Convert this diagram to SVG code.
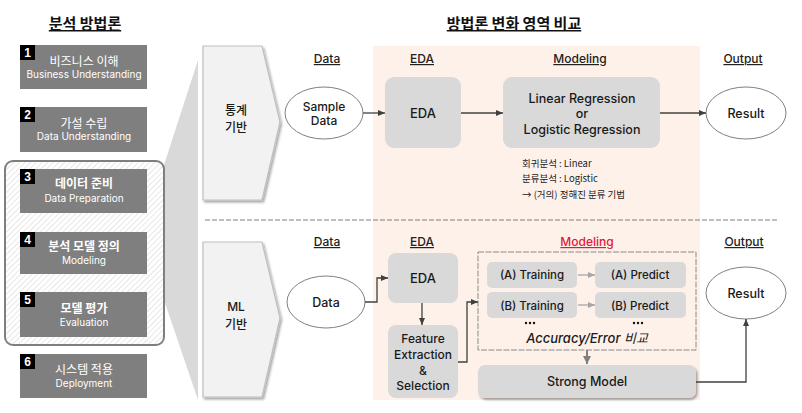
<svg xmlns="http://www.w3.org/2000/svg" width="802" height="413" viewBox="0 0 802 413">
<style>
.kr{font-family:"Noto Sans CJK KR","Noto Sans",sans-serif}
.lt{font-family:Inter,"Noto Sans CJK KR",sans-serif}
.step{fill:#7f7f7f}
.badge{fill:#000}
.bnum{fill:#fff;font-family:"Liberation Sans",sans-serif;font-size:12px;font-weight:bold}
.sk{fill:#fff;font-size:12px;text-anchor:middle}
.se{fill:#fff;font-size:10px;text-anchor:middle}
.col{font-size:12px;text-anchor:middle;fill:#222;text-decoration:underline;font-weight:500}
.gbox{fill:#d9d9d9}
.ell{fill:#fff;stroke:#808080;stroke-width:1}
.t{fill:#1a1a1a;text-anchor:middle;font-weight:500}
.conn{fill:none;stroke:#404040;stroke-width:1.3}
.lconn{fill:none;stroke:#a6a6a6;stroke-width:1.3}
.pent{fill:#f2f2f2;stroke:#bfbfbf;stroke-width:1.2}
</style>
<defs>
<pattern id="hatch" width="4" height="4" patternUnits="userSpaceOnUse" patternTransform="rotate(45)">
<rect width="4" height="4" fill="#fff"/>
<line x1="0" y1="0" x2="0" y2="4" stroke="#d0d0d0" stroke-width="1"/>
</pattern>
<marker id="ah" markerWidth="8" markerHeight="8" refX="7" refY="4" orient="auto" markerUnits="userSpaceOnUse">
<path d="M0,1 L7,4 L0,7 z" fill="#404040"/>
</marker>
<marker id="ahl" markerWidth="8" markerHeight="8" refX="7" refY="4" orient="auto" markerUnits="userSpaceOnUse">
<path d="M0,1 L7,4 L0,7 z" fill="#a6a6a6"/>
</marker>
<marker id="ahg" markerWidth="10" markerHeight="10" refX="8" refY="5" orient="auto" markerUnits="userSpaceOnUse">
<path d="M0,1 L8,5 L0,9 z" fill="#7f7f7f"/>
</marker>
<filter id="sh" x="-10%" y="-10%" width="125%" height="130%">
<feDropShadow dx="1.5" dy="2" stdDeviation="1.2" flood-color="#000" flood-opacity="0.35"/>
</filter>
</defs>

<rect width="802" height="413" fill="#fff"/>

<!-- peach background -->
<rect x="373" y="46" width="327" height="354" fill="#fdf1ea"/>

<!-- funnel -->
<polygon points="198,60 198,400 164,300 164,165" fill="#d9d9d9"/>

<!-- titles -->
<text class="kr" x="85" y="29" font-size="15" font-weight="bold" text-anchor="middle" text-decoration="underline" fill="#111">분석 방법론</text>
<text class="kr" x="514" y="29" font-size="15" font-weight="bold" text-anchor="middle" text-decoration="underline" fill="#111">방법론 변화 영역 비교</text>

<!-- highlight frame -->
<rect x="5" y="161" width="159" height="184" rx="8" fill="url(#hatch)" stroke="#7f7f7f" stroke-width="2"/>

<g id="step1">
<rect class="step" x="20" y="45" width="127" height="44"/>
<rect class="badge" x="20" y="45" width="15" height="15"/>
<text class="bnum" x="27.5" y="57" text-anchor="middle">1</text>
<text class="kr sk" x="84" y="66">비즈니스 이해</text>
<text class="lt se" x="84" y="78">Business Understanding</text>
</g>
<g id="step2">
<rect class="step" x="20" y="107" width="127" height="45"/>
<rect class="badge" x="20" y="107" width="15" height="15"/>
<text class="bnum" x="27.5" y="119" text-anchor="middle">2</text>
<text class="kr sk" x="84" y="128">가설 수립</text>
<text class="lt se" x="84" y="140">Data Understanding</text>
</g>
<g id="step3">
<rect class="step" x="20" y="169" width="127" height="44"/>
<rect class="badge" x="20" y="169" width="15" height="15"/>
<text class="bnum" x="27.5" y="181" text-anchor="middle">3</text>
<text class="kr sk" x="84" y="188" font-weight="bold">데이터 준비</text>
<text class="lt se" x="84" y="202">Data Preparation</text>
</g>
<g id="step4">
<rect class="step" x="20" y="232" width="127" height="42"/>
<rect class="badge" x="20" y="232" width="15" height="15"/>
<text class="bnum" x="27.5" y="244" text-anchor="middle">4</text>
<text class="kr sk" x="84" y="251" font-weight="bold">분석 모델 정의</text>
<text class="lt se" x="84" y="264">Modeling</text>
</g>
<g id="step5">
<rect class="step" x="20" y="292" width="127" height="45"/>
<rect class="badge" x="20" y="292" width="15" height="15"/>
<text class="bnum" x="27.5" y="304" text-anchor="middle">5</text>
<text class="kr sk" x="84" y="313" font-weight="bold">모델 평가</text>
<text class="lt se" x="84" y="326">Evaluation</text>
</g>
<g id="step6">
<rect class="step" x="20" y="354" width="127" height="44"/>
<rect class="badge" x="20" y="354" width="15" height="15"/>
<text class="bnum" x="27.5" y="366" text-anchor="middle">6</text>
<text class="kr sk" x="84" y="374">시스템 적용</text>
<text class="lt se" x="84" y="387">Deployment</text>
</g>

<!-- pentagons -->
<g id="stat">
<polygon class="pent" filter="url(#sh)" points="203,46 262,46 280,122 262,200 203,200"/>
<text class="kr t" x="236" y="115" font-size="12">통계</text>
<text class="kr t" x="236" y="132" font-size="12">기반</text>
</g>
<g id="ml">
<polygon class="pent" filter="url(#sh)" points="203,242 262,242 280,318 262,397 203,397"/>
<text class="lt t" x="236" y="311" font-size="12" font-weight="600">ML</text>
<text class="kr t" x="236" y="329" font-size="12">기반</text>
</g>

<!-- dashed divider -->
<line x1="205" y1="220" x2="778" y2="220" stroke="#7f7f7f" stroke-width="1" stroke-dasharray="5,2"/>

<!-- column labels -->
<g class="lt">
<text class="col" x="327" y="63">Data</text>
<text class="col" x="422" y="63">EDA</text>
<text class="col" x="580" y="63">Modeling</text>
<text class="col" x="743" y="63">Output</text>
<text class="col" x="327" y="246">Data</text>
<text class="col" x="422" y="246">EDA</text>
<text class="col" x="587" y="246" style="fill:#e0193c">Modeling</text>
<text class="col" x="744" y="246">Output</text>
</g>

<!-- top row -->
<g id="sample">
<ellipse class="ell" cx="324" cy="113" rx="39" ry="26"/>
<text class="lt t" x="324" y="111" font-size="12">Sample</text>
<text class="lt t" x="324" y="125" font-size="12">Data</text>
</g>
<g id="eda1">
<rect class="gbox" x="385" y="77" width="76" height="71" rx="9"/>
<text class="lt t" x="423" y="118" font-size="13">EDA</text>
</g>
<g id="lr">
<rect class="gbox" x="503" y="77" width="157" height="71" rx="9"/>
<text class="lt t" x="582" y="103" font-size="12.5">Linear Regression</text>
<text class="lt t" x="582" y="118" font-size="12.5">or</text>
<text class="lt t" x="582" y="134" font-size="12.5">Logistic Regression</text>
</g>
<g id="result1">
<ellipse class="ell" cx="746" cy="113" rx="40" ry="26"/>
<text class="lt t" x="746" y="118" font-size="12.5">Result</text>
</g>
<g id="notes" class="kr" font-size="9.5" fill="#222">
<text x="522" y="167">회귀분석 : Linear</text>
<text x="522" y="182">분류분석 : Logistic</text>
<text x="522" y="198">→ (거의) 정해진 분류 기법</text>
</g>

<!-- bottom row -->
<g id="data2">
<ellipse class="ell" cx="326" cy="302" rx="39" ry="26"/>
<text class="lt t" x="326" y="307" font-size="12.5">Data</text>
</g>
<g id="eda2">
<rect class="gbox" x="388" y="253" width="70" height="50" rx="8"/>
<text class="lt t" x="423" y="283" font-size="13">EDA</text>
</g>
<g id="feat">
<rect class="gbox" x="388" y="325" width="70" height="73" rx="8"/>
<text class="lt t" x="423" y="343" font-size="12">Feature</text>
<text class="lt t" x="423" y="359" font-size="12">Extraction</text>
<text class="lt t" x="423" y="375" font-size="12">&amp;</text>
<text class="lt t" x="423" y="390" font-size="12">Selection</text>
</g>
<g id="modelframe">
<rect x="478" y="252" width="218" height="98" fill="none" stroke="#808080" stroke-width="0.9" stroke-dasharray="6,1.5"/>
</g>
<g id="trainA">
<rect class="gbox" x="487" y="262" width="90" height="26" rx="5"/>
<text class="lt t" x="532" y="279" font-size="11.5" font-weight="normal">(A) Training</text>
</g>
<g id="predA">
<rect class="gbox" x="595" y="262" width="91" height="26" rx="5"/>
<text class="lt t" x="640" y="279" font-size="11.5" font-weight="normal">(A) Predict</text>
</g>
<g id="trainB">
<rect class="gbox" x="487" y="292" width="90" height="26" rx="5"/>
<text class="lt t" x="532" y="310" font-size="11.5" font-weight="normal">(B) Training</text>
</g>
<g id="predB">
<rect class="gbox" x="595" y="292" width="91" height="26" rx="5"/>
<text class="lt t" x="640" y="310" font-size="11.5" font-weight="normal">(B) Predict</text>
</g>
<g id="dots" fill="#111">
<circle cx="526" cy="323" r="1.2"/><circle cx="530" cy="323" r="1.2"/><circle cx="534" cy="323" r="1.2"/>
<circle cx="634" cy="323" r="1.2"/><circle cx="638" cy="323" r="1.2"/><circle cx="642" cy="323" r="1.2"/>
</g>
<text class="lt t" x="587" y="343" font-size="13" font-style="italic" font-weight="600">Accuracy/Error <tspan class="kr" font-weight="normal">비교</tspan></text>
<g id="strong">
<rect class="gbox" x="478" y="365" width="218" height="33" rx="7" filter="url(#sh)"/>
<text class="lt t" x="587" y="386" font-size="12.5">Strong Model</text>
</g>
<g id="result2">
<ellipse class="ell" cx="746" cy="293" rx="40" ry="26"/>
<text class="lt t" x="746" y="298" font-size="12.5">Result</text>
</g>

<!-- connectors -->
<g id="connectors">
<path class="conn" d="M363,113 H385" marker-end="url(#ah)"/>
<path class="conn" d="M461,113 H503" marker-end="url(#ah)"/>
<path class="conn" d="M660,113 H706" marker-end="url(#ah)"/>
<path class="conn" d="M365,302 H377 V278 H388" marker-end="url(#ah)"/>
<path class="conn" d="M422,303 V325" marker-end="url(#ah)"/>
<path class="conn" d="M458,362 H467 V302 H478" marker-end="url(#ah)"/>
<path class="lconn" d="M578,275 H595" marker-end="url(#ahl)"/>
<path class="lconn" d="M578,305 H595" marker-end="url(#ahl)"/>
<path fill="none" stroke="#7f7f7f" stroke-width="2" d="M587,350 V364" marker-end="url(#ahg)"/>
<path class="conn" d="M696,382 H746 V319" marker-end="url(#ah)"/>
</g>
</svg>
